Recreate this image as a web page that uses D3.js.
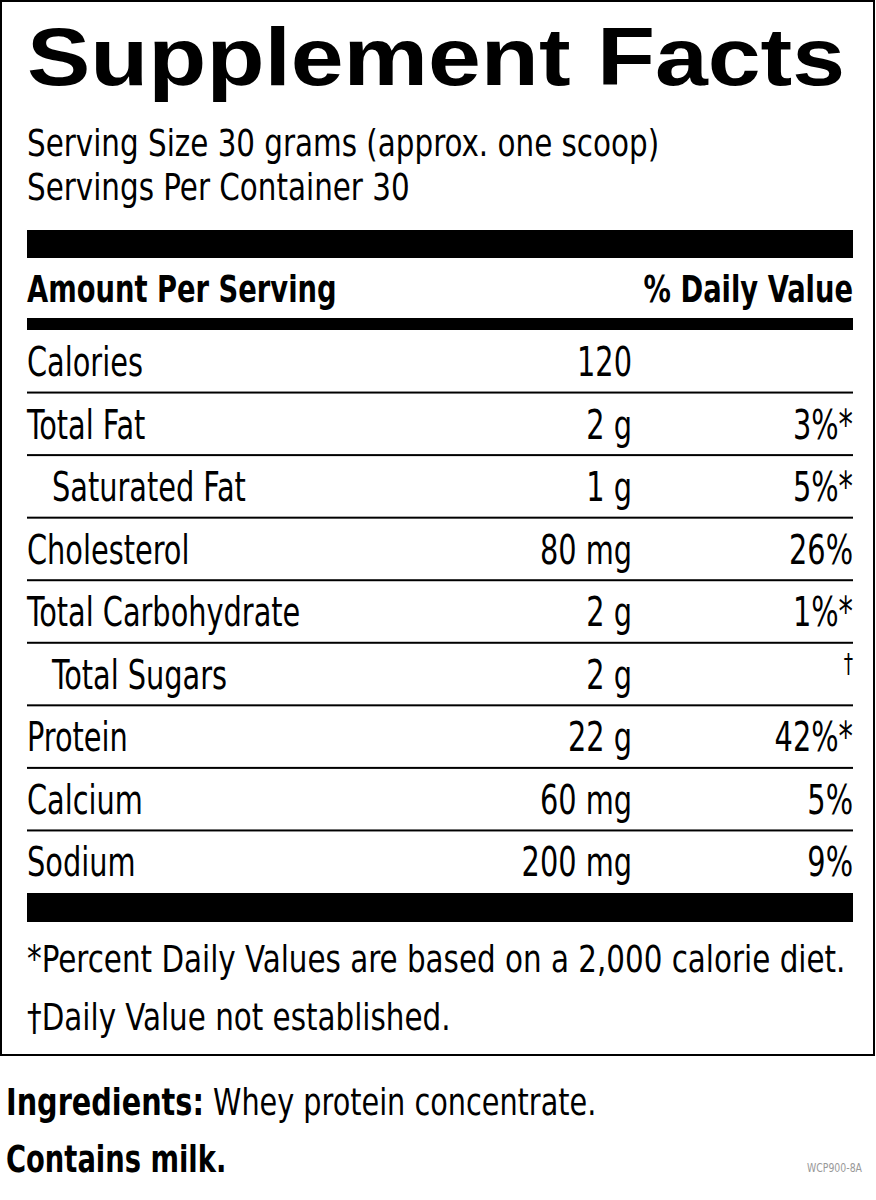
<!doctype html>
<html>
<head>
<meta charset="utf-8">
<script src="https://d3js.org/d3.v7.min.js"></script>
<style>body{margin:0;background:#fff}</style>
</head>
<body>
<div id="label"></div>
<script>
// Data
var nutrients = ["Calories", "Total Fat", "Saturated Fat", "Cholesterol", "Total Carbohydrate", "Total Sugars", "Protein", "Calcium", "Sodium"];
var indented = [false, false, true, false, false, true, false, false, false];
var amounts = ["120", "2 g", "1 g", "80 mg", "2 g", "2 g", "22 g", "60 mg", "200 mg"];
var dailyValues = ["", "3%*", "5%*", "26%", "1%*", "\u2020", "42%*", "5%", "9%"];
var servingLines = ["Serving Size 30 grams (approx. one scoop)", "Servings Per Container 30"];
var footnotes = ["*Percent Daily Values are based on a 2,000 calorie diet.", "\u2020Daily Value not established."];

var W = 876, H = 1200, left = 27, right = 853;
var font = "'Liberation Sans Narrow', 'DejaVu Sans Condensed', 'DejaVu Sans', sans-serif";

var svg = d3.select("#label").append("svg").attr("width", W).attr("height", H)
  .style("font-family", font);

// squeeze text horizontally around its anchor x (no condensed font installed)
function squeeze(sel, k) {
  sel.attr("transform", function() {
    var x = +d3.select(this).attr("x");
    return "translate(" + x + ",0) scale(" + k + ",1) translate(" + (-x) + ",0)";
  });
}

// Outer box
svg.append("rect").attr("x", 1).attr("y", 1).attr("width", W - 3).attr("height", 1054)
  .attr("fill", "none").attr("stroke", "#000").attr("stroke-width", 2);

// Title
svg.append("text").attr("x", left).attr("y", 85).text("Supplement Facts")
  .style("font-family", "'Liberation Sans', Arial, sans-serif").attr("font-weight", "bold")
  .attr("font-size", 81).attr("textLength", 818).attr("lengthAdjust", "spacingAndGlyphs");

svg.selectAll(".serv").data(servingLines).enter().append("text")
  .attr("x", left).attr("y", function(d, i) { return 156 + i * 44; })
  .attr("font-size", 38).text(function(d) { return d; }).call(squeeze, 0.86);

// Thick bars
svg.append("rect").attr("x", left).attr("y", 230).attr("width", right - left).attr("height", 28);
svg.append("rect").attr("x", left).attr("y", 318).attr("width", right - left).attr("height", 12);
svg.append("rect").attr("x", left).attr("y", 893).attr("width", right - left).attr("height", 29);

svg.append("text").attr("x", left).attr("y", 302).attr("font-size", 38).attr("font-weight", "bold")
  .text("Amount Per Serving").call(squeeze, 0.8);
svg.append("text").attr("x", right).attr("y", 302).attr("font-size", 38).attr("font-weight", "bold")
  .attr("text-anchor", "end").text("% Daily Value").call(squeeze, 0.8);

// Rows
var y = d3.scaleBand().domain(nutrients).range([330, 893]);
var rows = svg.selectAll(".row").data(nutrients).enter().append("g")
  .attr("transform", function(d) { return "translate(0," + y(d) + ")"; });

rows.filter(function(d, i) { return i > 0; }).append("rect")
  .attr("x", left).attr("y", -1).attr("width", right - left).attr("height", 2);

rows.append("text").attr("x", function(d, i) { return indented[i] ? left + 25 : left; })
  .attr("y", 46).attr("font-size", 40).text(function(d) { return d; }).call(squeeze, 0.8);
rows.append("text").attr("x", 632).attr("y", 46).attr("font-size", 40).attr("text-anchor", "end")
  .text(function(d, i) { return amounts[i]; }).call(squeeze, 0.8);
rows.append("text").attr("x", right).attr("y", function(d, i) { return dailyValues[i] === "\u2020" ? 30 : 46; })
  .attr("font-size", function(d, i) { return dailyValues[i] === "\u2020" ? 26 : 40; })
  .attr("text-anchor", "end").text(function(d, i) { return dailyValues[i]; }).call(squeeze, 0.8);

svg.selectAll(".foot").data(footnotes).enter().append("text")
  .attr("x", left).attr("y", function(d, i) { return 972 + i * 58; })
  .attr("font-size", 38).text(function(d) { return d; }).call(squeeze, 0.86);

// Below box
var ing = svg.append("text").attr("x", 6).attr("y", 1115).attr("font-size", 38).call(squeeze, 0.84);
ing.append("tspan").attr("font-weight", "bold").text("Ingredients:");
ing.append("tspan").text(" Whey protein concentrate.");
svg.append("text").attr("x", 6).attr("y", 1172).attr("font-size", 38).attr("font-weight", "bold")
  .text("Contains milk.").call(squeeze, 0.8);
svg.append("text").attr("x", 862).attr("y", 1172).attr("font-size", 13).attr("fill", "#999")
  .attr("text-anchor", "end").text("WCP900-8A").call(squeeze, 0.8);
</script>
</body>
</html>
